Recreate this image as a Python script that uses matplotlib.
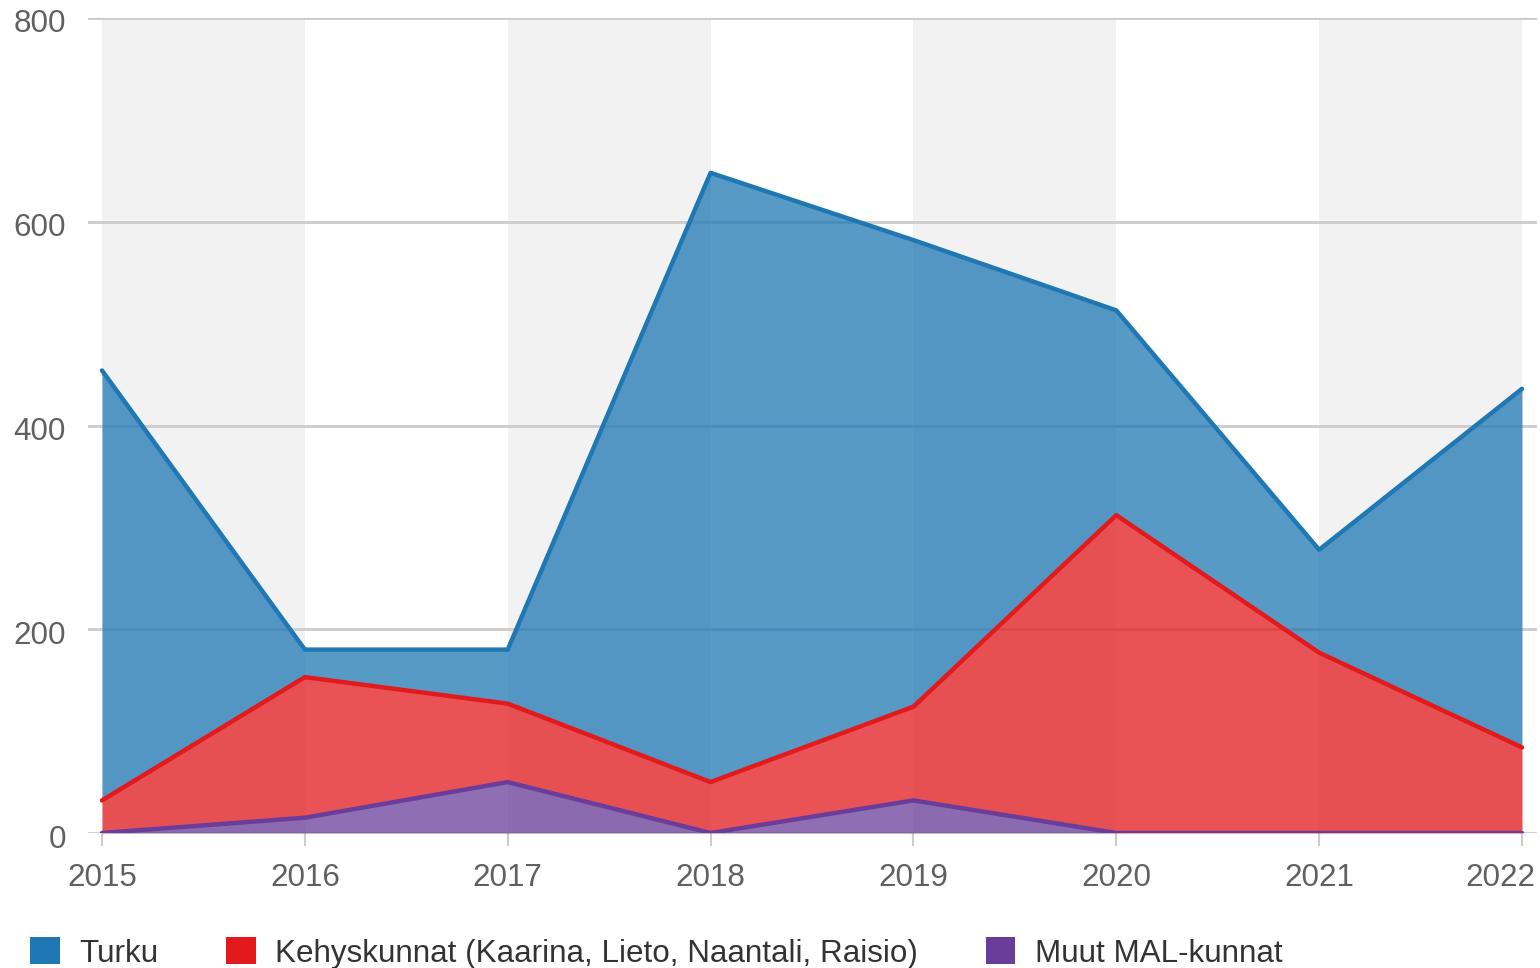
import matplotlib
matplotlib.use("Agg")
import matplotlib.pyplot as plt
import matplotlib.transforms as mtransforms
from matplotlib.patches import Patch

plt.rcParams['font.family'] = ['Liberation Sans', 'DejaVu Sans']

years = [2015, 2016, 2017, 2018, 2019, 2020, 2021, 2022]
turku = [422, 27, 53, 598, 458, 201, 101, 352]
kehys = [32, 138, 77, 50, 92, 312, 177, 84]
muut = [0, 15, 50, 0, 32, 0, 0, 0]
series_names = ["Turku", "Kehyskunnat (Kaarina, Lieto, Naantali, Raisio)", "Muut MAL-kunnat"]
line_colors = ["#1f78b4", "#e31a1c", "#6a3d9a"]
yticks = [0, 200, 400, 600, 800]

FS = 22.6
fig = plt.figure(figsize=(15.4, 9.68), dpi=100)
ax = fig.add_axes([88/1540, 1 - 833/968, (1537-88)/1540, (833-18)/968])

# stacking (bottom to top: muut, kehys, turku)
s0 = [0]*len(years)
s1 = muut
s2 = [a + b for a, b in zip(s1, kehys)]
s3 = [a + b for a, b in zip(s2, turku)]
layers = [(s2, s3, 0), (s1, s2, 1), (s0, s1, 2)]

# alternating bands
for i in range(0, len(years) - 1, 2):
    ax.axvspan(years[i], years[i+1], color="#f2f2f2", zorder=0, lw=0)

for y in yticks:
    ax.axhline(y, color="#cccccc", lw=2, zorder=1)

for lo, hi, k in layers:
    ax.fill_between(years, lo, hi, color=line_colors[k], alpha=0.75, lw=0, zorder=2)
for lo, hi, k in layers:
    ax.plot(years, hi, color=line_colors[k], lw=3.2, zorder=3, solid_joinstyle='round', solid_capstyle='round')

ax.set_xlim(years[0] - 14/203, years[-1] + 15/203)
ax.set_ylim(0, 800)
ax.set_yticks(yticks)
ax.set_yticklabels([str(v) for v in yticks])
ax.set_xticks(years)
ax.set_xticklabels([str(v) for v in years])
for sp in ax.spines.values():
    sp.set_visible(False)
ax.tick_params(axis='y', length=0, pad=16, labelsize=FS, labelcolor="#606060")
ax.tick_params(axis='x', length=9, width=1.5, color="#cccccc", pad=12.5, labelsize=FS, labelcolor="#606060")
ax.set_facecolor("white")

# shift y labels slightly down, last x label left (kept inside the figure)
down = mtransforms.ScaledTranslation(0, -3/100, fig.dpi_scale_trans)
for lab in ax.get_yticklabels():
    lab.set_transform(lab.get_transform() + down)
last = ax.get_xticklabels()[-1]
last.set_transform(last.get_transform() + mtransforms.ScaledTranslation(-22/100, 0, fig.dpi_scale_trans))

handles = [Patch(facecolor=c, edgecolor='none') for c in line_colors]
fig.legend(handles, series_names, loc='center left', bbox_to_anchor=(30/1540, 1 - 953/968),
           ncol=3, frameon=False, fontsize=FS, labelcolor="#333333",
           handlelength=0.95, handleheight=0.95, handletextpad=0.62, columnspacing=2.15,
           borderaxespad=0, borderpad=0)

fig.savefig("out.png", dpi=100)
